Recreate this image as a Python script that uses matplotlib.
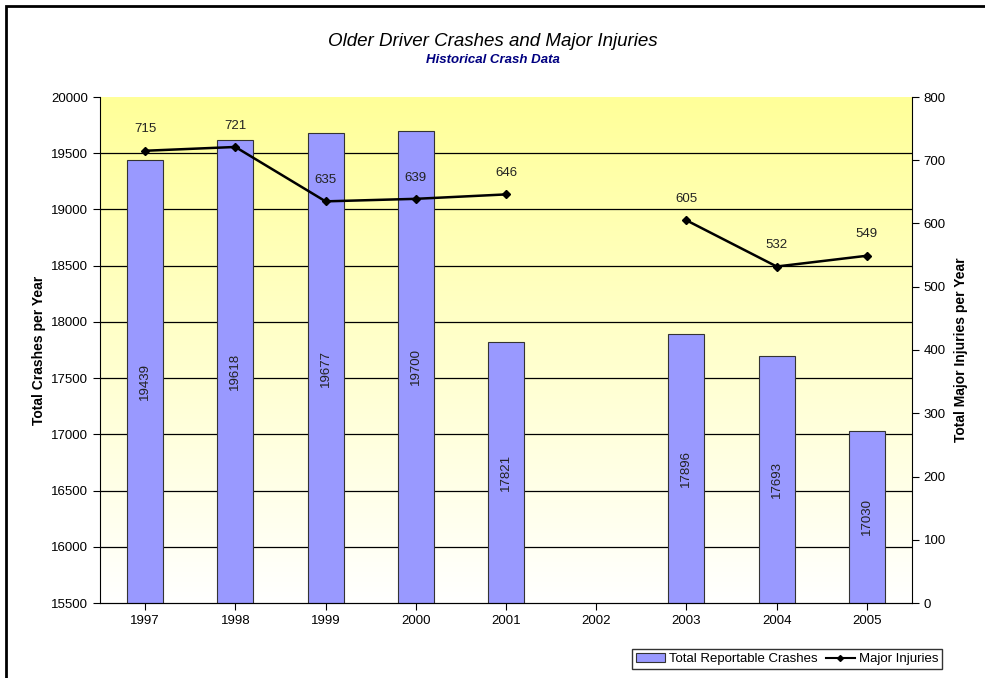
import numpy as np
import matplotlib.pyplot as plt
import matplotlib.patches as patches
from matplotlib.colors import LinearSegmentedColormap
from matplotlib.lines import Line2D

plt.rcParams['font.family'] = ['Liberation Sans', 'DejaVu Sans']

years = ['1997', '1998', '1999', '2000', '2001', '2002', '2003', '2004', '2005']
crashes = [19439, 19618, 19677, 19700, 17821, np.nan, 17896, 17693, 17030]
injuries = [715, 721, 635, 639, 646, np.nan, 605, 532, 549]

fig = plt.figure(figsize=(9.85, 6.78), dpi=100)
ax = fig.add_axes([100/985, 1-603/678, 812/985, 506/678])
x = np.arange(len(years))

# yellow -> white gradient background
cmap = LinearSegmentedColormap.from_list('bg', ['#FFFFFF', '#FFFF99'])
grad = np.linspace(0, 1, 256).reshape(-1, 1)
ax.imshow(grad, aspect='auto', cmap=cmap, origin='lower',
          extent=[0, 1, 0, 1], transform=ax.transAxes, zorder=0)

ax.set_xlim(-0.5, len(years) - 0.5)
ax.set_ylim(15500, 20000)
ax.set_yticks(np.arange(15500, 20001, 500))
for yv in np.arange(16000, 20000, 500):
    ax.axhline(yv, color='black', lw=0.9, zorder=1)

bars = ax.bar(x, [c if not np.isnan(c) else 0 for c in crashes], width=0.4,
              bottom=0, color='#9999FF', edgecolor='#333333', lw=0.8, zorder=2)
for xi, c in zip(x, crashes):
    if np.isnan(c):
        continue
    ax.text(xi, (15500 + c) / 2, f'{int(c)}', rotation=90, ha='center', va='center',
            fontsize=9.5, color='#222222', zorder=3)

ax.set_xticks(x)
ax.set_xticklabels(years, fontsize=9.5)
ax.tick_params(axis='y', labelsize=9.5, direction='out', length=5)
ax.tick_params(axis='x', length=5)
ax.set_ylabel('Total Crashes per Year', fontsize=10, fontweight='bold', labelpad=4)
for s in ['top', 'right']:
    ax.spines[s].set_visible(False)

ax2 = ax.twinx()
ax2.set_ylim(0, 800)
ax2.set_yticks(np.arange(0, 801, 100))
ax2.tick_params(axis='y', labelsize=9.5, direction='out', length=5)
ax2.plot(x, injuries, color='black', lw=1.8, marker='D', ms=4, zorder=5)
for xi, v in zip(x, injuries):
    if np.isnan(v):
        continue
    ax2.annotate(f'{int(v)}', (xi, v), xytext=(0, 11), textcoords='offset points',
                 ha='center', va='bottom', fontsize=9.5, color='#222222')
ax2.set_ylabel('Total Major Injuries per Year', fontsize=10, fontweight='bold', labelpad=6)
for s in ['top', 'left']:
    ax2.spines[s].set_visible(False)

fig.text(0.5, 1-42/678, 'Older Driver Crashes and Major Injuries', ha='center', va='center',
         fontsize=13.5, style='italic')
fig.text(0.5, 1-60/678, 'Historical Crash Data', ha='center', va='center',
         fontsize=9.5, style='italic', fontweight='bold', color='#000080')

handles = [patches.Patch(facecolor='#9999FF', edgecolor='#333333', lw=0.8),
           Line2D([], [], color='black', lw=1.5, marker='D', ms=3)]
fig.legend(handles, ['Total Reportable Crashes', 'Major Injuries'], loc='center',
           bbox_to_anchor=(787/985, 1-659/678), ncol=2, fontsize=9.5, frameon=True,
           fancybox=False, edgecolor='black', handlelength=2.2, handletextpad=0.3,
           columnspacing=0.6, borderpad=0.3)

fig.patches.append(patches.Rectangle((6/985, -0.01), 1.0, 1 - 6/678 + 0.01,
                                     transform=fig.transFigure, fill=False,
                                     edgecolor='black', lw=2))

fig.savefig('out.png', dpi=100)
